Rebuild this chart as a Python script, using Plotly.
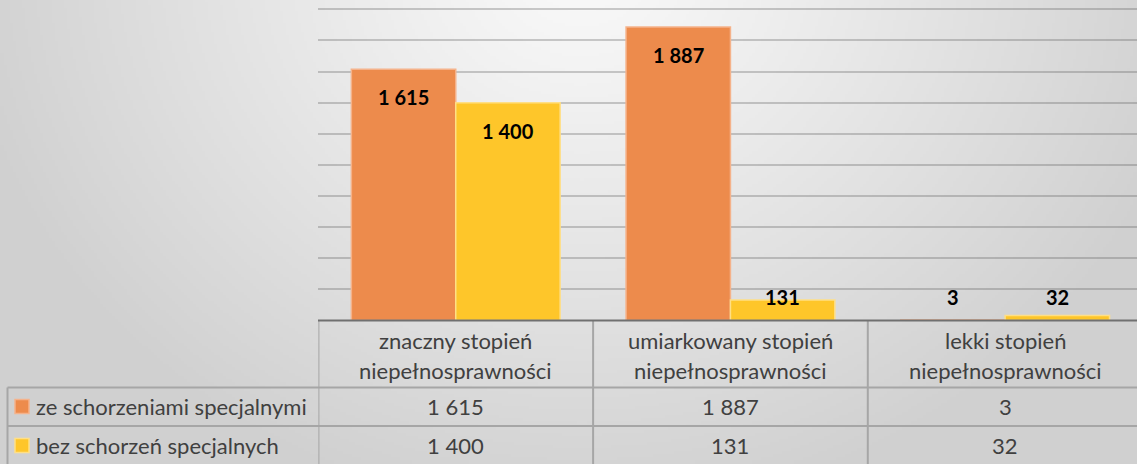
import base64, struct, zlib
import numpy as np
import plotly.graph_objects as go

# ---------------- data ----------------
categories = ["znaczny stopień niepełnosprawności",
              "umiarkowany stopień niepełnosprawności",
              "lekki stopień niepełnosprawności"]
series_names = ["ze schorzeniami specjalnymi", "bez schorzeń specjalnych"]
ze_schorzeniami = [1615, 1887, 3]
bez_schorzen = [1400, 131, 32]
series_values = [ze_schorzeniami, bez_schorzen]
colors = ["#ED8B4C", "#FEC62A"]
border_colors = ["#F5B28A", "#FFDF85"]

W, H = 1137, 464
Y_MAX = 2000
Y_TOP = 2010  # small headroom so the 2000 gridline is drawn


def fmt(v):
    return f"{v:,}".replace(",", " ")


def px_x(p):
    return p / W


def px_y(p):
    return 1 - p / H


# ---------------- background gradient image ----------------
def gradient_png(w, h):
    ys, xs = np.mgrid[0:h, 0:w].astype(float)
    xs = xs * (W / w)
    ys = ys * (H / h)
    t = np.sqrt(((xs - 580) / 630) ** 2 + ((ys + 40) / 560) ** 2)
    t = np.clip(t, 0, 1) ** 1.1
    c = 250 - (250 - 208) * t
    arr = np.repeat(c[:, :, None], 3, axis=2).astype(np.uint8)
    raw = b"".join(b"\x00" + arr[r].tobytes() for r in range(h))

    def chunk(tag, data):
        return (struct.pack(">I", len(data)) + tag + data +
                struct.pack(">I", zlib.crc32(tag + data) & 0xFFFFFFFF))

    png = (b"\x89PNG\r\n\x1a\n" +
           chunk(b"IHDR", struct.pack(">IIBBBBB", w, h, 8, 2, 0, 0, 0)) +
           chunk(b"IDAT", zlib.compress(raw, 9)) + chunk(b"IEND", b""))
    return "data:image/png;base64," + base64.b64encode(png).decode()


FONT = "Lato"
TXT = "#404040"
TSIZE = 22

fig = go.Figure()
for name, vals, col, bcol in zip(series_names, series_values, colors, border_colors):
    fig.add_trace(go.Bar(
        x=list(range(len(categories))), y=vals, name=name,
        marker=dict(color=col, line=dict(color=bcol, width=1.5)),
        hoverinfo="x+y+name", showlegend=False))

# data labels
offsets = [-0.19, 0.19]
for vals, off in zip(series_values, offsets):
    for i, v in enumerate(vals):
        fig.add_annotation(x=i + off, y=max(v - 180, 148), xref="x", yref="y",
                           text=f"<b>{fmt(v)}</b>", showarrow=False,
                           yanchor="middle",
                           font=dict(family=FONT, size=20, color="#000000"))

shapes = []
line_c = "#A6A6A6"
table_top = 320.5
row1 = 387.5
row2 = 426
bottom = 464
for yy in (row1, row2):
    shapes.append(dict(type="line", xref="paper", yref="paper",
                       x0=px_x(7.5), x1=1, y0=px_y(yy), y1=px_y(yy),
                       line=dict(color=line_c, width=2)))
shapes.append(dict(type="line", xref="paper", yref="paper",
                   x0=px_x(7.5), x1=px_x(7.5), y0=px_y(row1), y1=px_y(bottom),
                   line=dict(color=line_c, width=2)))
for xx in (-0.5, 0.5, 1.5):
    shapes.append(dict(type="line", xref="x", yref="paper",
                       x0=xx, x1=xx, y0=px_y(table_top), y1=px_y(bottom),
                       line=dict(color=line_c, width=2)))
shapes.append(dict(type="line", xref="paper", yref="paper",
                   x0=px_x(318), x1=1, y0=px_y(table_top), y1=px_y(table_top),
                   line=dict(color="#707070", width=2)))

# header texts
for i, cat in enumerate(categories):
    a, b = cat.rsplit(" ", 1)
    fig.add_annotation(x=i, y=px_y(340), xref="x", yref="paper", text=a,
                       showarrow=False, yanchor="middle",
                       font=dict(family=FONT, size=TSIZE, color=TXT))
    fig.add_annotation(x=i, y=px_y(370), xref="x", yref="paper", text=b,
                       showarrow=False, yanchor="middle",
                       font=dict(family=FONT, size=TSIZE, color=TXT))

# rows
row_centers = [406.5, 445.5]
for name, vals, col, bcol, yc in zip(series_names, series_values, colors,
                                    border_colors, row_centers):
    shapes.append(dict(type="rect", xref="paper", yref="paper",
                       x0=px_x(15), x1=px_x(29), y0=px_y(yc - 7), y1=px_y(yc + 7),
                       fillcolor=col, line=dict(color=bcol, width=1.5)))
    fig.add_annotation(x=px_x(34), y=px_y(yc), xref="paper", yref="paper",
                       text=name, showarrow=False, xanchor="left", yanchor="middle",
                       font=dict(family=FONT, size=TSIZE, color=TXT))
    for i, v in enumerate(vals):
        fig.add_annotation(x=i, y=px_y(yc), xref="x", yref="paper",
                           text=fmt(v), showarrow=False, yanchor="middle",
                           font=dict(family=FONT, size=TSIZE, color=TXT))

px_per_unit = (320.5 - 9.3) / Y_MAX
plot_top_px = table_top - Y_TOP * px_per_unit

fig.update_layout(
    width=W, height=H,
    margin=dict(l=0, r=0, t=0, b=0),
    paper_bgcolor="#dcdcdc", plot_bgcolor="rgba(0,0,0,0)",
    barmode="group", bargap=0.24, bargroupgap=0,
    shapes=shapes,
    images=[dict(source=gradient_png(379, 155), xref="paper", yref="paper",
                 x=0, y=1, sizex=1, sizey=1, sizing="stretch",
                 xanchor="left", yanchor="top", layer="below")],
    xaxis=dict(domain=[318.4 / W, 1], range=[-0.5, 2.48], showticklabels=False,
               showgrid=False, zeroline=False, ticks="", fixedrange=True),
    yaxis=dict(domain=[(H - table_top) / H, (H - plot_top_px) / H],
               range=[0, Y_TOP], tick0=0, dtick=200,
               showticklabels=False, showgrid=True,
               gridcolor="rgba(90,90,90,0.3)", gridwidth=1.5,
               zeroline=False, ticks="", fixedrange=True),
)

fig.write_html("out.html",
               config={"displayModeBar": False},
               post_script="document.body.style.margin='0';"
                           "document.body.style.overflow='hidden';")
